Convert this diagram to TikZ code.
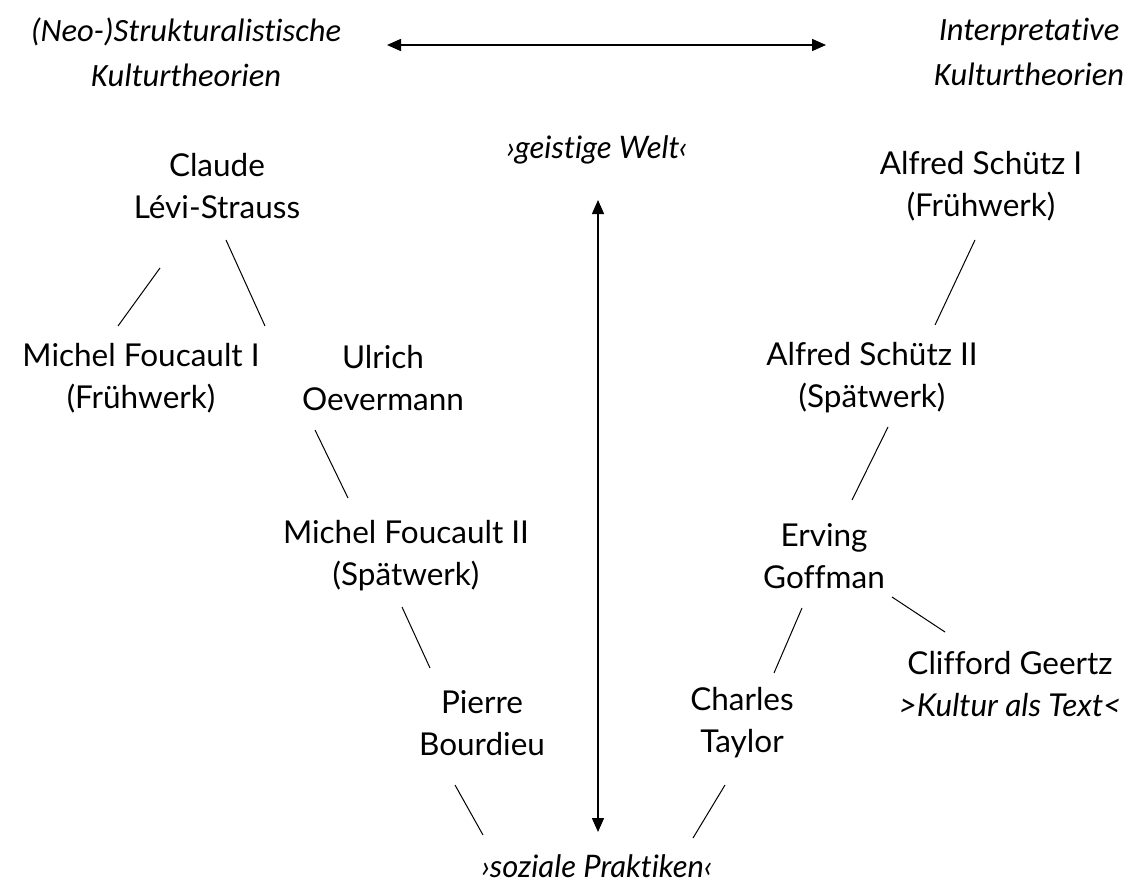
\documentclass[tikz,border=0pt]{standalone}
\usepackage{fontspec}
\setmainfont{Lato}[Ligatures=NoCommon]
\newfontfamily\headfont{Carlito}[Ligatures=NoCommon]
\usetikzlibrary{arrows.meta}
\begin{document}
\begin{tikzpicture}[x=1pt,y=-1pt,
  person/.style={align=center,font=\fontsize{31.5}{42}\selectfont,inner sep=0pt},
  pole/.style={font=\fontsize{31}{42}\selectfont\itshape,inner sep=0pt},
  heading/.style={align=center,font=\fontsize{32.5}{45}\selectfont\headfont\itshape,inner sep=0pt},
  link/.style={line width=1pt},
  axis/.style={line width=1.5pt,{Triangle[length=14pt,width=12pt]}-{Triangle[length=14pt,width=12pt]}}]
\useasboundingbox (0,0) rectangle (1126,886);

% headings and the axis between them
\node[heading] (headL) at (186,52) {(Neo-)Strukturalistische\\Kulturtheorien};
\node[heading] (headR) at (1029,52) {Interpretative\\Kulturtheorien};
\draw[axis] ([shift={(201,-7)}]headL.center) -- ([shift={(-203,-7)}]headR.center);

% poles of the vertical axis
\node[pole] (geist) at (597,150) {›geistige Welt‹};
\node[pole] (soziale) at (597,866) {›soziale Praktiken‹};
\draw[axis] ([shift={(1,50)}]geist.center) -- ([shift={(1,-34)}]soziale.center);

% structuralist branch
\node[person] (levi) at (217,186) {Claude\\Lévi-Strauss};
\node[person] (fou1) at (141,378) {Michel Foucault I\\(Frühwerk)};
\node[person] (oever) at (383,378) {Ulrich\\Oevermann};
\node[person] (fou2) at (406,556) {Michel Foucault II\\(Spätwerk)};
\node[person] (bourdieu) at (482,723) {Pierre\\Bourdieu};

% interpretative branch
\node[person] (schutz1) at (981,186) {Alfred Schütz I\\(Frühwerk)};
\node[person] (schutz2) at (872,378) {Alfred Schütz II\\(Spätwerk)};
\node[person] (goffman) at (824,556) {Erving\\Goffman};
\node[person] (geertz) at (1010,684) {Clifford Geertz\\\textit{>Kultur als Text<}};
\node[person] (taylor) at (742,723) {Charles\\Taylor};

% connectors
\draw[link] ([shift={(-57,82)}]levi.center) -- ([shift={(-23,-52)}]fou1.center);
\draw[link] ([shift={(9,54)}]levi.center) -- ([shift={(-118,-52)}]oever.center);
\draw[link] ([shift={(-68,52)}]oever.center) -- ([shift={(-58,-58)}]fou2.center);
\draw[link] ([shift={(-4,51)}]fou2.center) -- ([shift={(-52,-55)}]bourdieu.center);
\draw[link] ([shift={(-27,62)}]bourdieu.center) -- ([shift={(-114,-31)}]soziale.center);
\draw[link] ([shift={(-6,54)}]schutz1.center) -- ([shift={(63,-53)}]schutz2.center);
\draw[link] ([shift={(16,49)}]schutz2.center) -- ([shift={(28,-56)}]goffman.center);
\draw[link] ([shift={(-22,52)}]goffman.center) -- ([shift={(32,-50)}]taylor.center);
\draw[link] ([shift={(68,41)}]goffman.center) -- ([shift={(-65,-52)}]geertz.center);
\draw[link] ([shift={(-17,62)}]taylor.center) -- ([shift={(96,-28)}]soziale.center);
\end{tikzpicture}
\end{document}
